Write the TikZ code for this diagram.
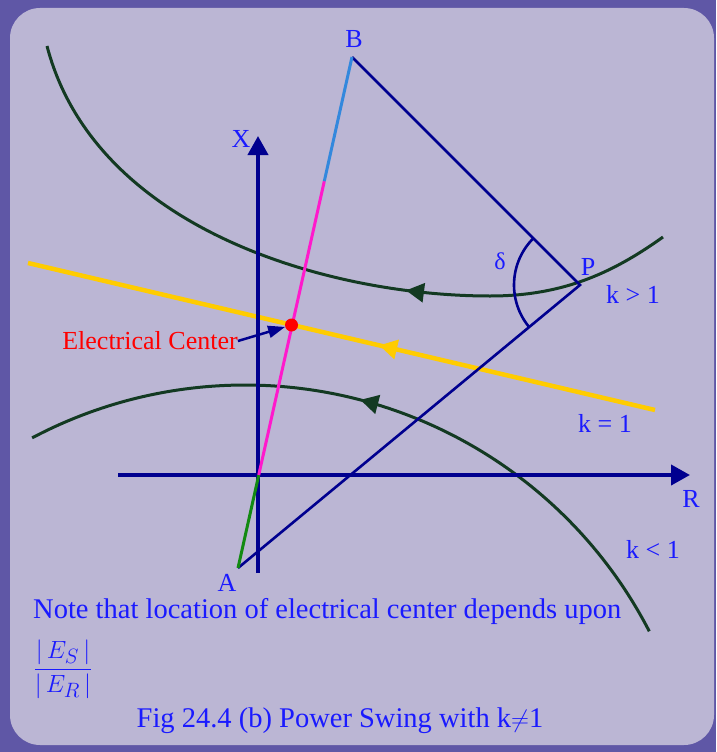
\documentclass[tikz,border=0pt]{standalone}
\usepackage{fontspec}
\setmainfont{Liberation Serif}
\usetikzlibrary{arrows.meta,calc,decorations.markings}
\definecolor{PSFrame}{HTML}{5F57A6}
\definecolor{PSPanel}{HTML}{BBB6D4}
\definecolor{PSNavy}{HTML}{00008F}
\definecolor{PSText}{HTML}{1A1AFF}
\definecolor{PSLocus}{HTML}{133A22}
\definecolor{PSYellow}{HTML}{FFCC00}
\definecolor{PSPink}{HTML}{FF19CC}
\definecolor{PSSky}{HTML}{3388DD}
\definecolor{PSGreen}{HTML}{128A12}
\definecolor{PSRed}{HTML}{FF0000}
\tikzset{
  axis/.style={-{Triangle[length=19pt,width=20pt]},PSNavy,line width=4pt},
  side/.style={PSNavy,line width=2.6pt},
  locus/.style={PSLocus,line width=3pt},
  swing/.style={PSYellow,line width=4.5pt},
  impedance/.style={line width=3pt},
  pointer/.style={-{Triangle[length=17pt,width=12pt]},PSNavy,line width=2.5pt},
  midarrow/.style={postaction={decorate,decoration={markings,
      mark=at position #1 with {\arrow{Triangle[length=18pt,width=19pt]}}}}},
  tag/.style={text=PSText,font=\fontsize{26}{30}\selectfont,inner sep=0pt},
  note/.style={text=PSText,font=\fontsize{28.5}{32}\selectfont,inner sep=0pt},
  centerdot/.style={circle,fill=PSRed,minimum size=13pt,inner sep=0pt},
}
\begin{document}
\begin{tikzpicture}[x=1pt,y=-1pt]
    \useasboundingbox (0,0) rectangle (716,752);
    \fill[PSFrame] (0,0) rectangle (716,752);
    \fill[PSPanel,rounded corners=30pt] (10,8) rectangle (714,745);

    \coordinate (A) at (238,568);
    \coordinate (B) at (352,57);
    \coordinate (P) at (580,285);
    \coordinate (O) at ($(A)!0.182!(B)$);
    \coordinate (M) at ($(A)!0.757!(B)$);
    \coordinate (Xlow) at (258,573);
    \coordinate (Xtop) at (258,136);
    \coordinate (Rleft) at (118,475);
    \coordinate (Rtip) at (690,475);
    \coordinate (Yright) at (655,410);
    \coordinate (Yleft) at (28,263);
    \coordinate (lowc) at (245,840);

    % k = 1 line and the two loci
    \draw[swing,midarrow=0.44] (Yright) -- (Yleft);
    \draw[locus,midarrow=0.37] (663,237) .. controls (610,275) and (560,296) .. (490,296)
      .. controls (330,296) and (95,230) .. (47,46);
    \draw[locus,midarrow=0.53] (lowc) ++(-27.3:455)
      arc[start angle=-27.3,end angle=-117.9,radius=455];

    \draw[axis] (Xlow) -- (Xtop);
    \draw[axis] (Rleft) -- (Rtip);

    \draw[side] (A) -- (P) -- (B);
    \draw[side] (P) ++(140.4:66) arc[start angle=140.4,end angle=225,radius=66];

    \draw[impedance,PSGreen] (A) -- (O);
    \draw[impedance,PSPink] (O) -- (M);
    \draw[impedance,PSSky] (M) -- (B);

    \node[centerdot] (ecdot) at (291.5,325) {};
    \node[tag,text=PSRed] (ectext) at (150,341) {Electrical Center};
    \draw[pointer] (ectext.east) -- (ecdot);

    \node[tag] (lB) at (354,39) {B};
    \node[tag] (lX) at (241,139) {X};
    \node[tag] (lA) at (227,583) {A};
    \node[tag] (lP) at (588,267) {P};
    \node[tag] (lR) at (691,499) {R};
    \node[tag,font=\fontsize{24}{28}\selectfont] (delta) at (500,261) {δ};
    \node[tag] (kgt) at (633,294) {k > 1};
    \node[tag] (keq) at (605,423) {k = 1};
    \node[tag] (klt) at (653,549) {k < 1};

    \node[note,anchor=base west] (remark) at (33,618)
      {Note that location of electrical center depends upon};
    \node[note] (ratio) at (63,669) {$\displaystyle\frac{|\,E_S\,|}{|\,E_R\,|}$};
    \node[note,anchor=base] (caption) at (340,727)
      {Fig 24.4 (b) Power Swing with k$\neq$1};
\end{tikzpicture}
\end{document}
